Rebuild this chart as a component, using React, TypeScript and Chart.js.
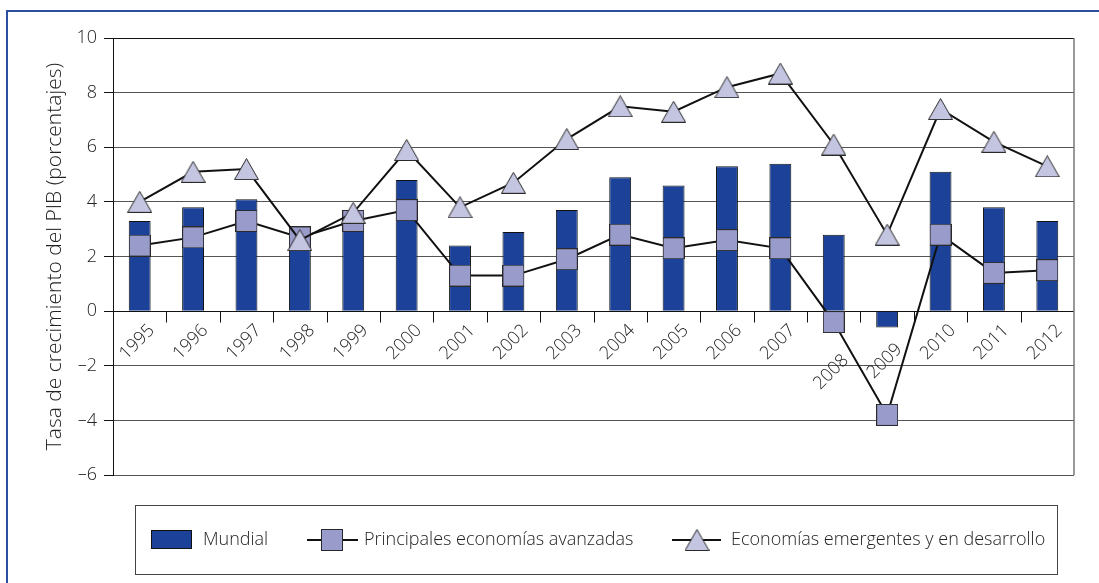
import React, { useEffect, useRef } from "react";
import { Chart, registerables } from "chart.js";

Chart.register(...registerables);

const years = ["1995", "1996", "1997", "1998", "1999", "2000", "2001", "2002", "2003", "2004", "2005", "2006", "2007", "2008", "2009", "2010", "2011", "2012"];
const mundial = [3.3, 3.8, 4.1, 2.6, 3.6, 4.8, 2.4, 2.9, 3.7, 4.9, 4.6, 5.3, 5.4, 2.8, -0.6, 5.1, 3.8, 3.3];
const avanzadas = [2.4, 2.7, 3.3, 2.7, 3.3, 3.7, 1.3, 1.3, 1.9, 2.8, 2.3, 2.6, 2.3, -0.4, -3.8, 2.8, 1.4, 1.5];
const emergentes = [4.0, 5.1, 5.2, 2.6, 3.6, 5.9, 3.8, 4.7, 6.3, 7.5, 7.3, 8.2, 8.7, 6.1, 2.8, 7.4, 6.2, 5.3];
const yTicks = [-6, -4, -2, 0, 2, 4, 6, 8, 10];
const seriesNames = ["Mundial", "Principales economías avanzadas", "Economías emergentes y en desarrollo"];
const yTitle = "Tasa de crecimiento del PIB (porcentajes)";
const labelDrop: Record<string, number> = { "2008": 30, "2009": 19 };

const BAR = "#1b4298";
const SQ = "#999bcb";
const TRI = "#c4c5e0";
const EDGE = "#2a2a2a";
const TEXT = "#222222";
const FONT = '"Open Sans", "DejaVu Sans", sans-serif';

function makeSquare(size: number) {
  const c = document.createElement("canvas");
  c.width = size;
  c.height = size;
  const g = c.getContext("2d")!;
  g.fillStyle = SQ;
  g.fillRect(0, 0, size, size);
  g.strokeStyle = EDGE;
  g.lineWidth = 1;
  g.strokeRect(0.5, 0.5, size - 1, size - 1);
  return c;
}

function makeTriangle(w: number, h: number) {
  const c = document.createElement("canvas");
  c.width = w;
  c.height = h;
  const g = c.getContext("2d")!;
  g.beginPath();
  g.moveTo(w / 2, 0.5);
  g.lineTo(w - 0.5, h - 0.5);
  g.lineTo(0.5, h - 0.5);
  g.closePath();
  g.fillStyle = TRI;
  g.fill();
  g.strokeStyle = EDGE;
  g.lineWidth = 1;
  g.stroke();
  return c;
}

export default function App() {
  const ref = useRef<HTMLCanvasElement | null>(null);

  useEffect(() => {
    if (!ref.current) return;
    const sq = makeSquare(22);
    const tri = makeTriangle(25, 22);

    const decor = {
      id: "decor",
      afterDraw(chart: any) {
        const { ctx, chartArea: a, scales } = chart;
        const x = scales.x;
        const y = scales.y;
        ctx.save();
        // right border of plot
        ctx.strokeStyle = "#777";
        ctx.lineWidth = 1.5;
        ctx.beginPath();
        ctx.moveTo(a.right, a.top);
        ctx.lineTo(a.right, a.bottom);
        ctx.stroke();

        // category tick marks below zero line
        const y0 = Math.round(y.getPixelForValue(0)) + 0.5;
        const half = (x.getPixelForValue(1) - x.getPixelForValue(0)) / 2;
        ctx.strokeStyle = "#111";
        ctx.lineWidth = 1;
        ctx.beginPath();
        for (let i = 1; i < years.length; i++) {
          const bx = Math.round(x.getPixelForValue(i) - half) + 0.5;
          ctx.moveTo(bx, y0);
          ctx.lineTo(bx, y0 + 11);
        }
        ctx.stroke();

        // rotated year labels
        ctx.font = `300 18px ${FONT}`;
        ctx.fillStyle = TEXT;
        ctx.textAlign = "right";
        ctx.textBaseline = "middle";
        years.forEach((yr, i) => {
          const cx = x.getPixelForValue(i) + 12;
          const cy = y0 + 16 + (labelDrop[yr] || 0);
          ctx.save();
          ctx.translate(cx, cy);
          ctx.rotate(-Math.PI / 4);
          ctx.fillText(yr, 0, 0);
          ctx.restore();
        });

        // y axis title
        ctx.save();
        ctx.font = `300 21px ${FONT}`;
        ctx.translate(55, (a.top + a.bottom) / 2);
        ctx.rotate(-Math.PI / 2);
        ctx.textAlign = "center";
        ctx.textBaseline = "middle";
        ctx.fillText(yTitle, 0, 0);
        ctx.restore();

        // legend box
        ctx.font = `300 18px ${FONT}`;
        ctx.strokeStyle = "#444";
        ctx.lineWidth = 1;
        ctx.strokeRect(135.5, 505.5, 922, 69);
        const ly = 540;
        // bar swatch
        ctx.fillStyle = BAR;
        ctx.fillRect(151, 530, 41, 19);
        ctx.strokeStyle = "#111";
        ctx.strokeRect(151.5, 530.5, 40, 18);
        ctx.fillStyle = TEXT;
        ctx.textAlign = "left";
        ctx.textBaseline = "middle";
        ctx.fillText(seriesNames[0], 203, ly);
        // square item
        ctx.strokeStyle = "#111";
        ctx.lineWidth = 2;
        ctx.beginPath();
        ctx.moveTo(307, ly);
        ctx.lineTo(358, ly);
        ctx.stroke();
        ctx.drawImage(sq, 332 - 11, ly - 11);
        ctx.fillText(seriesNames[1], 364, ly);
        // triangle item
        ctx.beginPath();
        ctx.moveTo(672, ly);
        ctx.lineTo(721, ly);
        ctx.stroke();
        ctx.drawImage(tri, 697 - 12.5, ly - 11);
        ctx.fillText(seriesNames[2], 731, ly);
        ctx.restore();
      },
    };

    const chart = new Chart(ref.current, {
      type: "bar",
      data: {
        labels: years,
        datasets: [
          {
            type: "line",
            label: seriesNames[2],
            data: emergentes,
            borderColor: "#111",
            borderWidth: 2,
            pointStyle: tri as any,
            pointRadius: 11,
            order: 0,
          },
          {
            type: "line",
            label: seriesNames[1],
            data: avanzadas,
            borderColor: "#111",
            borderWidth: 2,
            pointStyle: sq as any,
            pointRadius: 11,
            order: 1,
          },
          {
            type: "bar",
            label: seriesNames[0],
            data: mundial,
            backgroundColor: BAR,
            borderColor: "#111",
            borderWidth: 1,
            barPercentage: 0.41,
            categoryPercentage: 1,
            order: 2,
          },
        ],
      },
      options: {
        responsive: false,
        animation: false,
        devicePixelRatio: 1,
        layout: { padding: { top: 38, right: 25, bottom: 108, left: 0 } },
        plugins: { legend: { display: false }, tooltip: { enabled: false } },
        scales: {
          x: { display: false, offset: true },
          y: {
            min: -6,
            max: 10,
            afterFit: (s: any) => {
              s.width = 113;
            },
            afterBuildTicks: (s: any) => {
              s.ticks = yTicks.map((v) => ({ value: v }));
            },
            grid: {
              color: (c: any) => (c.tick && (c.tick.value === 0 || c.tick.value === 10) ? "#111" : "#555"),
              lineWidth: 1,
              tickLength: 9,
              tickColor: "#111",
              drawTicks: true,
            },
            border: { display: true, color: "#111", width: 1 },
            ticks: {
              padding: 7,
              color: TEXT,
              font: { family: FONT, size: 18, weight: "300" },
              callback: (v: any) => (Number(v) < 0 ? "–" + Math.abs(Number(v)) : String(v)),
            },
          },
        },
      },
      plugins: [decor],
    } as any);

    return () => chart.destroy();
  }, []);

  return (
    <div style={{ position: "fixed", left: 0, top: 0, width: 1099, height: 583, overflow: "hidden", background: "#fff" }}>
      <div
        style={{
          position: "absolute",
          left: 6,
          top: 10,
          width: 1200,
          height: 700,
          border: "2px solid #2b4fa0",
        }}
      />
      <canvas ref={ref} width={1099} height={583} style={{ position: "absolute", left: 0, top: 0, width: 1099, height: 583 }} />
    </div>
  );
}
